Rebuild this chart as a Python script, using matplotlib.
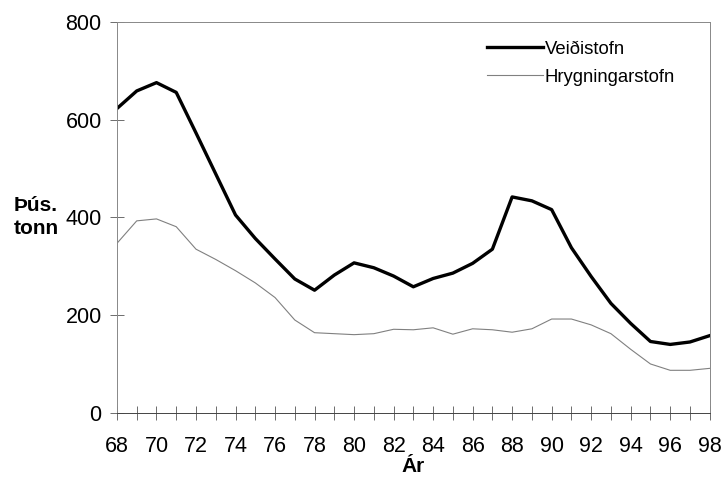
import matplotlib
matplotlib.use('Agg')
import matplotlib.pyplot as plt
from matplotlib.ticker import MultipleLocator

plt.rcParams['font.family'] = ['Liberation Sans', 'DejaVu Sans']

# ár (1968-1998) og stofnstærð í þús. tonna
ar = list(range(68, 99))
veidistofn = [623, 659, 676, 656, 573, 489, 405, 357, 315, 274, 251, 282, 307, 297, 280,
              258, 275, 286, 306, 335, 442, 434, 416, 338, 279, 224, 183, 146, 140, 145, 158]
hrygningarstofn = [347, 393, 397, 381, 335, 314, 291, 266, 236, 190, 164, 162, 160, 162, 171,
                   170, 174, 161, 172, 170, 165, 172, 192, 192, 180, 162, 130, 100, 87, 87, 91]

fig = plt.figure(figsize=(7.22, 4.80), dpi=100)
ax = fig.add_axes([0.162, 0.140, 0.821, 0.814])

ax.plot(ar, veidistofn, color='black', lw=2.4, label='Veiðistofn')
ax.plot(ar, hrygningarstofn, color='#808080', lw=0.8, label='Hrygningarstofn')

ax.set_xlim(68, 98)
ax.set_ylim(0, 800)
ax.xaxis.set_major_locator(MultipleLocator(2))
ax.xaxis.set_minor_locator(MultipleLocator(1))
ax.yaxis.set_major_locator(MultipleLocator(200))
ax.tick_params(axis='both', which='both', direction='inout', length=10, width=0.6,
               color='#555555', labelsize=15.5)
ax.tick_params(axis='x', pad=12)
ax.tick_params(axis='y', pad=6)

for s in ax.spines.values():
    s.set_color('#888888')
    s.set_linewidth(0.7)
ax.spines['bottom'].set_color('#444444')

ax.set_xlabel('Ár', fontsize=15, fontweight='bold', labelpad=0)
fig.text(0.05, 0.548, 'Þús.\ntonn', fontsize=15, fontweight='bold',
         ha='center', va='center', linespacing=1.25)

ax.legend(loc='upper left', bbox_to_anchor=(0.625, 0.952), frameon=False,
          borderaxespad=0, borderpad=0, fontsize=13.3, handlelength=3.0,
          handletextpad=0.1, labelspacing=0.58)

fig.savefig('out.png', dpi=100)
